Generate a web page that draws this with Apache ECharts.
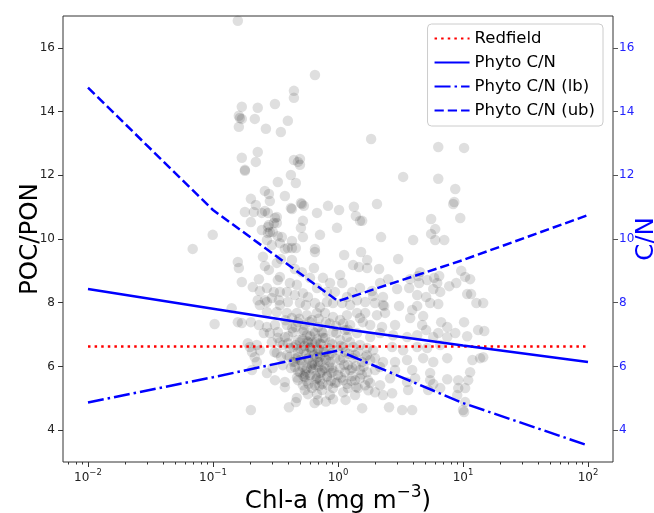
<!DOCTYPE html>
<html>
<head>
<meta charset="utf-8">
<script src="https://cdn.jsdelivr.net/npm/echarts@6/dist/echarts.min.js"></script>
<style>
  html, body { margin: 0; background: #fff; }
  #chart { width: 654px; height: 513px; }
</style>
</head>
<body>
<div id="chart"></div>
<script>
const chlValues = [
  // partie haute
  0.158,0.654,0.444,0.444,0.170,0.228,0.313,0.161,0.164,0.170,
  0.216,0.397,0.161,0.265,0.349,1.84,6.34,10.2,0.228,0.170,
  0.220,0.444,0.496,0.478,0.496,0.180,0.180,0.420,0.330,0.460,
  0.260,0.280,0.285,0.376,0.201,0.220,0.180,0.212,0.246,0.260,
  0.275,0.428,0.514,0.533,0.832,1.02,0.679,1.34,1.39,1.50,
  1.56,2.05,0.201,0.246,0.313,0.324,0.280,0.275,0.301,0.330,
  0.356,0.505,0.524,0.524,0.718,0.982,2.21,0.0995,0.0688,0.428,
  3.32,6.34,8.67,8.51,8.35,9.51,5.56,5.99,5.56,5.99,
  7.08,3.99,3.03,1.12,1.53,1.32,1.47,1.71,1.71,2.13,
  1.04,4.54,4.38,3.78,4.46,5.88,6.45,6.22,5.17,9.68,
  10.4,11.4,8.83,7.76,2.52,2.17,2.97,3.71,5.78,6.57,
  5.07,10.8,11.6,12.8,14.5,1.50,1.30,1.87,1.91,2.29,
  2.34,1.08,1.18,1.42,1.65,1.98,3.08,4.30,5.46,6.34,
  4.30,
  // milieu gauche
  0.324,0.307,0.420,0.505,0.275,0.285,0.270,0.296,0.343,0.158,
  0.161,0.170,0.233,0.251,0.260,0.280,0.324,0.343,0.330,0.349,
  0.376,0.397,0.428,0.428,0.460,0.452,0.514,0.412,0.469,0.654,
  0.654,0.642,0.597,0.679,0.758,0.863,0.946,0.816,0.237,0.208,
  0.270,0.307,0.343,0.390,0.452,0.524,0.575,0.228,0.260,0.296,
  0.337,0.397,0.496,0.654,0.816,0.912,0.141,
  // bas gauche
  0.103,0.158,0.170,0.201,0.233,0.270,0.313,0.237,0.270,0.343,
  0.270,0.324,0.390,0.469,0.564,0.679,0.787,0.912,0.285,0.330,
  0.376,0.436,0.524,0.564,0.654,0.758,0.912,0.255,0.190,0.197,
  0.224,0.205,0.237,0.296,0.343,0.397,0.496,0.619,0.718,0.863,
  0.216,0.224,0.205,0.270,0.324,0.390,0.478,0.575,0.679,0.787,
  0.895,0.362,0.452,0.564,0.718,0.895,0.313,0.376,0.478,0.543,
  0.679,0.816,0.946,0.376,0.654,0.575,0.679,0.469,0.460,0.405,
  0.912,0.201,
  // bas droite
  1.08,2.29,1.18,1.42,1.65,2.05,2.38,3.92,3.78,4.80,
  1.25,1.58,2.25,2.86,4.71,5.07,6.69,7.48,10.2,10.8,
  1.18,1.42,1.81,2.17,2.76,3.57,4.30,5.78,6.34,7.48,
  8.67,1.10,1.32,1.71,1.91,2.71,3.32,4.30,5.17,6.57,
  7.48,11.9,13.7,14.5,1.10,1.32,1.65,1.98,2.29,2.86,
  3.57,4.80,5.78,1.04,1.25,1.50,1.71,2.17,2.86,3.92,
  5.46,11.4,1.10,1.37,1.81,2.17,2.61,3.57,4.14,5.46,
  5.78,7.48,9.16,11.0,1.20,1.45,2.29,2.71,3.64,5.26,
  6.57,9.16,10.4,8.99,10.4,10.0,10.2,1.56,2.56,3.26,
  3.92,13.2,14.8,
  // coeur dense
  0.428,0.478,0.543,0.619,0.691,0.801,0.964,0.412,0.460,0.533,
  0.597,0.691,0.832,1.0,1.14,0.436,0.514,0.619,0.745,0.863,
  1.04,1.20,1.39,0.496,0.597,0.718,0.832,1.0,1.14,1.30,
  1.50,0.524,0.619,0.745,0.912,1.10,1.37,1.65,0.478,0.575,
  0.787,1.04,1.25,1.50,1.81,1.98,0.362,0.390,0.460,0.553,
  0.718,1.25,1.50,1.81,1.04,1.14,1.37,1.56,1.74,1.98,
  0.863,0.691,0.543,
  0.40,0.44,0.48,0.52,0.56,0.60,0.64,0.68,0.72,0.76,
  0.80,0.85,0.90,0.95,1.05,1.12,1.22,1.30,1.45,1.60,
  0.42,0.47,0.50,0.55,0.58,0.62,0.66,0.70,0.75,0.78,
  0.82,0.88,0.92,0.98,1.06,1.18,1.28,1.40,1.55,1.70,
  0.38,0.43,0.49,0.53,0.59,0.63,0.70,0.74,0.86,0.97,
  1.10,1.20,0.35,0.33,0.31,0.30,0.65,0.80,1.15,1.75,
  0.45,0.50,0.55,0.60,0.65,0.70,0.75,0.80,0.52,0.58,
  0.63,0.68,0.73,0.57,0.62,0.67,0.48,0.53,0.72,0.77,
  0.41,0.46,0.85,0.89,0.54,0.61,0.69,0.56,0.66,0.71
];
const pocPonValues = [
  16.85,15.15,14.65,14.43,14.15,14.12,14.24,13.87,13.80,13.77,
  13.77,13.71,13.52,13.46,13.36,13.14,12.89,12.86,12.73,12.55,
  12.42,12.48,12.51,12.42,12.33,12.17,12.14,12.01,11.79,11.76,
  11.51,11.41,11.19,11.35,11.26,11.07,10.85,10.85,10.82,10.88,
  10.82,10.94,11.10,11.04,11.04,10.91,10.82,11.01,10.72,10.57,
  10.57,11.10,10.53,10.28,10.66,10.50,10.44,10.19,10.22,10.09,
  10.06,10.35,10.06,10.57,10.13,10.35,10.06,10.13,9.69,9.94,
  11.95,11.89,11.57,11.16,11.10,10.66,10.63,10.31,10.16,9.97,
  9.97,9.97,9.37,9.50,9.59,9.18,9.12,9.09,9.34,9.06,
  8.87,8.96,8.84,8.74,8.62,8.78,8.84,8.62,8.71,9.00,
  8.81,8.74,8.62,8.52,8.74,8.62,8.43,8.46,8.43,8.34,
  8.18,8.27,8.27,7.99,7.99,8.46,8.34,8.37,8.21,8.18,
  7.90,8.62,8.18,8.08,8.02,7.99,7.90,7.90,7.99,7.96,
  8.24,
  10.69,10.50,10.97,11.13,10.38,10.22,9.97,9.81,9.87,9.28,
  9.09,8.65,8.74,9.44,9.15,9.03,9.25,8.81,8.71,9.37,
  9.69,9.72,9.72,9.34,9.72,9.06,8.96,8.62,8.56,9.69,
  9.59,9.09,8.78,8.46,8.78,8.62,8.34,8.34,8.37,8.49,
  8.46,8.34,8.34,8.34,8.24,8.30,8.18,8.08,8.08,8.15,
  8.08,8.02,7.99,7.99,8.02,7.99,7.83,
  7.33,7.39,7.36,7.39,7.30,7.24,7.30,7.93,8.02,7.93,
  7.71,7.71,7.68,7.68,7.61,7.68,7.68,7.55,7.05,7.08,
  6.92,7.08,7.08,6.98,7.05,7.05,7.08,7.05,6.73,6.61,
  6.67,6.45,6.51,6.76,6.76,6.73,6.76,6.76,6.73,6.76,
  6.29,6.14,5.89,5.79,6.42,6.36,6.29,6.26,6.29,6.26,
  6.42,6.04,5.98,5.95,6.14,5.95,5.57,5.51,5.57,5.67,
  5.63,5.67,5.48,5.35,5.41,5.13,5.13,5.01,4.88,4.72,
  4.97,4.63,
  7.99,7.93,7.61,7.68,7.68,7.61,7.68,7.77,7.52,7.58,
  7.30,7.39,7.24,7.30,7.30,7.14,7.39,7.24,7.39,6.95,
  6.92,7.05,6.92,7.05,6.98,6.92,6.98,6.92,7.05,6.92,
  7.05,6.61,6.61,6.58,6.51,6.61,6.51,6.61,6.58,6.67,
  6.26,6.20,6.26,6.29,6.26,6.26,6.29,6.26,6.14,6.14,
  6.20,6.26,6.14,5.95,5.89,5.89,5.82,5.98,5.89,5.89,
  5.79,5.82,5.57,5.57,5.48,5.41,5.63,5.51,5.63,5.57,
  5.45,5.60,5.57,5.57,5.32,5.32,5.10,5.16,5.26,5.26,
  5.32,5.32,5.32,5.10,4.88,4.63,4.57,4.69,4.72,4.63,
  4.63,7.14,7.11,
  7.52,7.39,7.30,7.46,7.24,7.39,7.27,6.58,6.67,6.51,
  6.58,6.51,6.58,6.51,6.45,6.14,6.14,6.04,5.89,6.14,
  6.20,6.04,6.01,5.82,5.73,5.57,5.41,5.73,5.82,5.70,
  5.63,5.41,5.32,5.26,5.32,5.19,5.10,5.41,6.83,6.76,
  6.89,6.83,6.76,6.67,6.20,5.89,6.67,7.30,7.24,7.93,
  7.86,7.93,7.52,7.30,7.46,7.14,6.36,6.14,5.57,5.19,
  5.10,4.94,5.26,
  6.95,6.60,6.45,6.85,6.40,6.95,6.35,6.85,6.30,6.90,
  6.45,6.00,6.70,6.25,6.65,6.05,6.40,5.95,6.45,6.00,
  5.95,5.65,6.20,5.85,5.45,6.10,5.70,6.00,5.45,5.95,
  5.70,5.55,5.85,5.50,5.65,5.45,5.55,5.35,5.75,6.35,
  7.45,7.20,7.50,7.15,7.40,7.10,7.50,7.10,7.35,7.05,
  7.35,7.15,6.30,6.90,6.45,5.95,4.85,4.90,4.95,5.25,
  6.15,6.55,5.75,6.60,6.05,6.55,5.85,6.20,6.00,6.25,
  5.90,6.40,6.70,6.80,6.50,5.60,5.85,5.70,5.80,6.45,
  6.30,6.25,6.35,5.80,6.65,5.95,6.15,5.55,6.75,5.40
];

// Courbes de reference, evaluees a chaque decade de Chl-a
const lineChl = [0.01, 0.1, 1, 10, 100];
const redfieldCN = [6.625, 6.625, 6.625, 6.625, 6.625];
const phytoCN = [8.43, 7.81, 7.20, 6.66, 6.14];
const phytoCNlb = [4.87, 5.66, 6.50, 4.85, 3.52];
const phytoCNub = [14.75, 10.91, 8.05, 9.34, 10.75];

// Graduations
const xTicks = [0.01, 0.1, 1, 10, 100];
const yTicks = [4, 6, 8, 10, 12, 14, 16];

const FONT = "DejaVu Sans";
const X_MIN = Math.pow(10, -2.2);
const X_MAX = Math.pow(10, 2.2);

// graduations mineures du log (2..9 x 10^k)
const minorTicks = [];
for (let e = -3; e <= 2; e++) {
  for (let m = 2; m <= 9; m++) {
    const v = m * Math.pow(10, e);
    if (v > X_MIN && v < X_MAX) minorTicks.push(v);
  }
}

const minus = (n) => String(n).replace("-", "\u2212");

function refLine(name, values, color, dash) {
  return {
    name,
    type: "line",
    xAxisIndex: 0,
    yAxisIndex: 0,
    data: lineChl.map((x, i) => [x, values[i]]),
    symbol: "none",
    silent: true,
    z: 3,
    lineStyle: { color, width: 2.5, type: dash, cap: "butt" },
    itemStyle: { color }
  };
}

const chart = echarts.init(document.getElementById("chart"));
chart.setOption({
  animation: false,
  textStyle: { fontFamily: FONT },
  grid: {
    left: 63, right: 41, top: 16, bottom: 51,
    outerBoundsMode: "none",
    containLabel: false,
    show: true, borderColor: "#333", borderWidth: 1
  },
  legend: {
    data: ["Redfield", "Phyto C/N", "Phyto C/N (lb)", "Phyto C/N (ub)"],
    orient: "vertical",
    right: 51,
    top: 24,
    padding: [6, 8, 7, 6],
    itemWidth: 35,
    itemHeight: 14,
    itemGap: 7,
    itemStyle: { opacity: 0 },
    backgroundColor: "rgba(255,255,255,0.8)",
    borderColor: "#cccccc",
    borderWidth: 1,
    borderRadius: 4,
    textStyle: { fontFamily: FONT, fontSize: 16.5, color: "#000" }
  },
  xAxis: [
    {
      type: "log",
      logBase: 10,
      min: X_MIN,
      max: X_MAX,
      position: "bottom",
      axisLine: { show: false },
      splitLine: { show: false },
      axisTick: { show: true, customValues: xTicks, length: 5, lineStyle: { color: "#333" } },
      axisLabel: {
        customValues: xTicks,
        margin: 6,
        fontFamily: FONT,
        fontSize: 12,
        lineHeight: 20,
        color: "#222",
        formatter: (v) => "10{s|" + minus(Math.round(Math.log10(v))) + "}",
        rich: { s: { fontFamily: FONT, fontSize: 8.5, lineHeight: 10, verticalAlign: "top", color: "#222" } }
      },
      name: "Chl-a (mg m{s|\u22123})",
      nameLocation: "middle",
      nameGap: 22,
      nameMoveOverlap: false,
      nameTextStyle: {
        fontFamily: FONT, fontSize: 24.5, color: "#000", lineHeight: 36,
        rich: { s: { fontFamily: FONT, fontSize: 17, lineHeight: 19, verticalAlign: "top", color: "#000" } }
      }
    },
    {
      type: "log",
      logBase: 10,
      min: X_MIN,
      max: X_MAX,
      position: "bottom",
      axisLine: { show: false },
      splitLine: { show: false },
      axisTick: { show: true, customValues: minorTicks, length: 2.5, lineStyle: { color: "#333" } },
      axisLabel: { show: false }
    }
  ],
  yAxis: [
    {
      type: "value",
      min: 3,
      max: 17,
      position: "left",
      axisLine: { show: false },
      splitLine: { show: false },
      axisTick: { show: true, customValues: yTicks, length: 5, lineStyle: { color: "#333" } },
      axisLabel: { customValues: yTicks, margin: 8, fontFamily: FONT, fontSize: 12, color: "#222" },
      name: "POC/PON",
      nameLocation: "middle",
      nameRotate: 90,
      nameGap: 20,
      nameMoveOverlap: false,
      nameTextStyle: { fontFamily: FONT, fontSize: 24.5, color: "#000" }
    },
    {
      type: "value",
      min: 3,
      max: 17,
      position: "right",
      axisLine: { show: false },
      splitLine: { show: false },
      axisTick: { show: true, customValues: yTicks, length: 5, lineStyle: { color: "#555" } },
      axisLabel: { customValues: yTicks, margin: 6, fontFamily: FONT, fontSize: 12, color: "#2222ff" },
      name: "C/N",
      nameLocation: "middle",
      nameRotate: 90,
      nameGap: 21,
      nameMoveOverlap: false,
      nameTextStyle: { fontFamily: FONT, fontSize: 24.5, color: "#0000ff" }
    }
  ],
  series: [
    {
      name: "POC/PON obs",
      type: "scatter",
      xAxisIndex: 0,
      yAxisIndex: 0,
      data: chlValues.map((x, i) => [x, pocPonValues[i]]),
      symbolSize: 10.5,
      silent: true,
      z: 2,
      itemStyle: { color: "rgba(0,0,0,0.155)" }
    },
    refLine("Redfield", redfieldCN, "#ff0000", [2.5, 4.1]),
    refLine("Phyto C/N", phytoCN, "#0000ff", "solid"),
    refLine("Phyto C/N (lb)", phytoCNlb, "#0000ff", [16, 4, 2.5, 4]),
    refLine("Phyto C/N (ub)", phytoCNub, "#0000ff", [9.25, 4])
  ]
});
</script>
</body>
</html>
